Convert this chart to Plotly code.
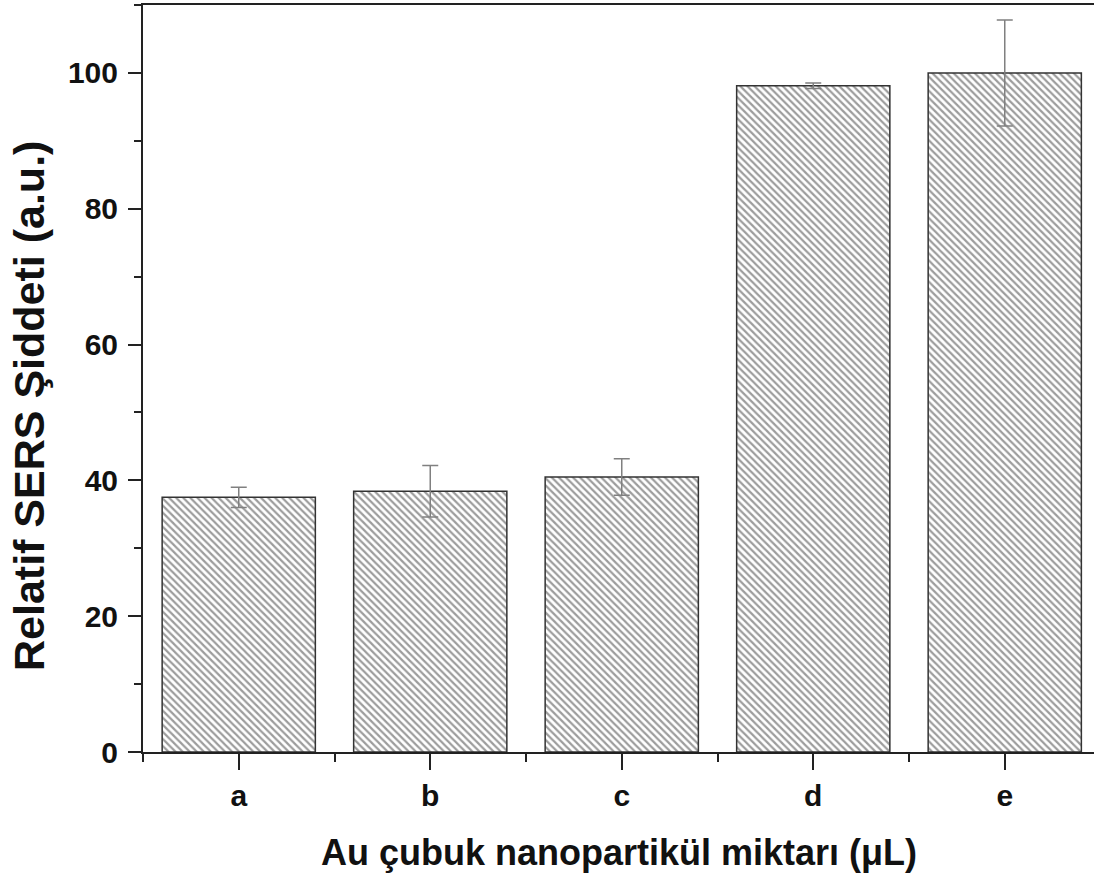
import plotly.graph_objects as go

categories = ["a", "b", "c", "d", "e"]
values = [37.5, 38.4, 40.5, 98.1, 100.0]
errors = [1.5, 3.8, 2.7, 0.4, 7.8]
y_ticks = [0, 20, 40, 60, 80, 100]

xpos = list(range(len(categories)))
FONT = "Liberation Sans, Arial, sans-serif"
AX = "#222222"

fig = go.Figure()
fig.add_trace(go.Bar(
    x=xpos, y=values, width=0.8,
    marker=dict(
        color="white",
        line=dict(color="#333333", width=1.5),
        pattern=dict(shape="\\", fgcolor="#3a3a3a", bgcolor="white", size=5, solidity=0.45),
    ),
    error_y=dict(type="data", array=errors, visible=True, color="#808080", thickness=1.5, width=8),
    showlegend=False,
))

fig.update_layout(
    width=1094, height=881,
    margin=dict(l=143, r=0, t=5, b=129),
    paper_bgcolor="white", plot_bgcolor="white",
    font=dict(family=FONT, color="#111111"),
    bargap=0.2,
    annotations=[
        dict(text="Au çubuk nanopartikül miktarı (μL)", xref="paper", yref="paper",
             x=0.5, y=(752 - 853) / 747, xanchor="center", yanchor="middle", showarrow=False,
             font=dict(size=36, family=FONT, weight="bold", color="#111111")),
        dict(text="Relatif SERS Şiddeti (a.u.)", xref="paper", yref="paper", textangle=-90,
             x=(29 - 143) / 951, y=(752 - 406) / 747, xanchor="center", yanchor="middle", showarrow=False,
             font=dict(size=43, family=FONT, weight="bold", color="#111111")),
    ],
)
fig.update_xaxes(
    range=[-0.5, 4.466],
    tickvals=xpos, ticktext=categories,
    tickfont=dict(size=30, family=FONT, weight="bold"),
    ticks="outside", ticklen=16, tickwidth=2, tickcolor=AX,
    showline=True, linecolor=AX, linewidth=2, mirror=True,
    showgrid=False, zeroline=False,
    minor=dict(tickvals=[-0.5, 0.5, 1.5, 2.5, 3.5], ticks="outside", ticklen=8, tickwidth=2, tickcolor=AX),
)
fig.update_yaxes(
    range=[0, 110],
    tickvals=y_ticks,
    tickfont=dict(size=30, family=FONT, weight="bold"),
    ticks="outside", ticklen=13, tickwidth=2, tickcolor=AX, ticklabelstandoff=4,
    showline=True, linecolor=AX, linewidth=2, mirror=False,
    showgrid=False, zeroline=False,
    minor=dict(dtick=10, ticks="outside", ticklen=7, tickwidth=2, tickcolor=AX),
)

fig.write_html("out.html")
